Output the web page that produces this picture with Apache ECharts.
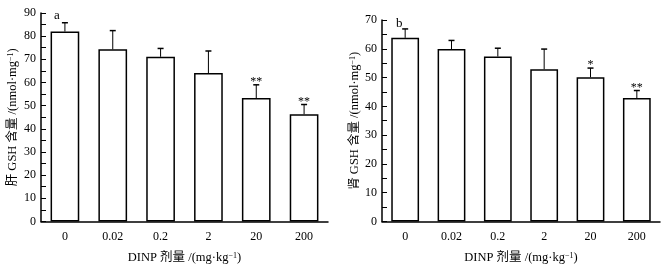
<!DOCTYPE html>
<html>
<head>
    <meta charset="utf-8">
    <title>DINP GSH</title>
    <script src="https://cdn.jsdelivr.net/npm/echarts@6/dist/echarts.min.js"></script>
    <style>
        html, body { margin: 0; padding: 0; background: #fff; }
    </style>
</head>
<body>
    <div id="main" style="width: 667px;height:269px;"></div>
    <script type="text/javascript">
        // 数据
        var doses = ['0', '0.02', '0.2', '2', '20', '200'];
        var liverMean = [82, 74.3, 71.1, 64.1, 53.3, 46.3];
        var liverTop = [85.8, 82.4, 74.7, 73.6, 59.0, 50.5];
        var liverMark = ['', '', '', '', '**', '**'];
        var kidneyMean = [63.8, 59.9, 57.3, 52.9, 50.1, 42.9];
        var kidneyTop = [66.9, 62.9, 60.2, 59.9, 53.3, 45.5];
        var kidneyMark = ['', '', '', '', '*', '**'];

        var FONT = '"Liberation Serif", "Noto Sans CJK SC", serif';

        var myChart = echarts.init(document.getElementById('main'));

        function yName(organ) {
            return '{t|' + organ + ' GSH 含量 /(nmol·mg}{s|−1}{t|)}';
        }
        var nameRich = {
            t: { fontFamily: FONT, fontSize: 12.5, color: '#000' },
            s: { fontFamily: FONT, fontSize: 8, color: '#000', verticalAlign: 'top', padding: [0, 0, 4, 0] }
        };

        function xAxisCfg(idx) {
            return {
                type: 'category',
                gridIndex: idx,
                data: doses,
                name: '{t|DINP 剂量 /(mg·kg}{s|−1}{t|)}',
                nameLocation: 'middle',
                nameGap: 30,
                nameTextStyle: { rich: nameRich },
                axisLine: { lineStyle: { color: '#000', width: 1.5 } },
                axisTick: { show: false },
                axisLabel: { color: '#000', fontFamily: FONT, fontSize: 12, margin: 9 }
            };
        }
        function yAxisCfg(idx, max, organ, gap) {
            return {
                type: 'value',
                gridIndex: idx,
                min: 0,
                max: max,
                interval: 10,
                name: yName(organ),
                nameLocation: 'middle',
                nameGap: gap,
                nameTextStyle: { rich: nameRich },
                axisLine: { show: true, lineStyle: { color: '#000', width: 1.5 } },
                axisTick: { show: true, inside: true, length: 5, lineStyle: { color: '#000', width: 1 } },
                minorTick: { show: true, splitNumber: 2, length: 5, lineStyle: { color: '#000', width: 1 } },
                splitLine: { show: false },
                axisLabel: { color: '#000', fontFamily: FONT, fontSize: 12, margin: 5 }
            };
        }

        // 误差线 + 显著性标记
        function errSeries(idx, mean, top, marks) {
            var data = [];
            for (var i = 0; i < mean.length; i++) {
                data.push([i, mean[i], top[i]]);
            }
            return {
                type: 'custom',
                xAxisIndex: idx,
                yAxisIndex: idx,
                z: 3,
                data: data,
                renderItem: function (params, api) {
                    var i = api.value(0);
                    var p0 = api.coord([i, api.value(1)]);
                    var p1 = api.coord([i, api.value(2)]);
                    var children = [
                        { type: 'line', shape: { x1: p0[0], y1: p0[1], x2: p1[0], y2: p1[1] }, style: { stroke: '#000', lineWidth: 1 } },
                        { type: 'line', shape: { x1: p1[0] - 3, y1: p1[1], x2: p1[0] + 3, y2: p1[1] }, style: { stroke: '#000', lineWidth: 1.5 } }
                    ];
                    var m = marks[params.dataIndex];
                    if (m) {
                        children.push({
                            type: 'text',
                            style: { text: m, x: p1[0], y: p1[1] - 3, align: 'center', verticalAlign: 'middle', fontFamily: FONT, fontSize: 12, fill: '#000' }
                        });
                    }
                    return { type: 'group', children: children };
                }
            };
        }

        function barSeries(idx, mean) {
            return {
                type: 'bar',
                xAxisIndex: idx,
                yAxisIndex: idx,
                data: mean,
                barWidth: '60%',
                itemStyle: { color: '#fff', borderColor: '#000', borderWidth: 1.5 }
            };
        }

        var option = {
            animation: false,
            title: [
                { text: 'a', left: 49, top: 4, textStyle: { fontFamily: FONT, fontSize: 13, fontWeight: 'normal', color: '#000' } },
                { text: 'b', left: 391, top: 12, textStyle: { fontFamily: FONT, fontSize: 13, fontWeight: 'normal', color: '#000' } }
            ],
            grid: [
                { left: 41, top: 13, width: 287, height: 214 },
                { left: 382, top: 20, width: 278, height: 208 }
            ],
            xAxis: [xAxisCfg(0), xAxisCfg(1)],
            yAxis: [yAxisCfg(0, 90, '肝', 22), yAxisCfg(1, 70, '肾', 21)],
            series: [
                barSeries(0, liverMean),
                errSeries(0, liverMean, liverTop, liverMark),
                barSeries(1, kidneyMean),
                errSeries(1, kidneyMean, kidneyTop, kidneyMark)
            ]
        };

        myChart.setOption(option);
    </script>
</body>
</html>
